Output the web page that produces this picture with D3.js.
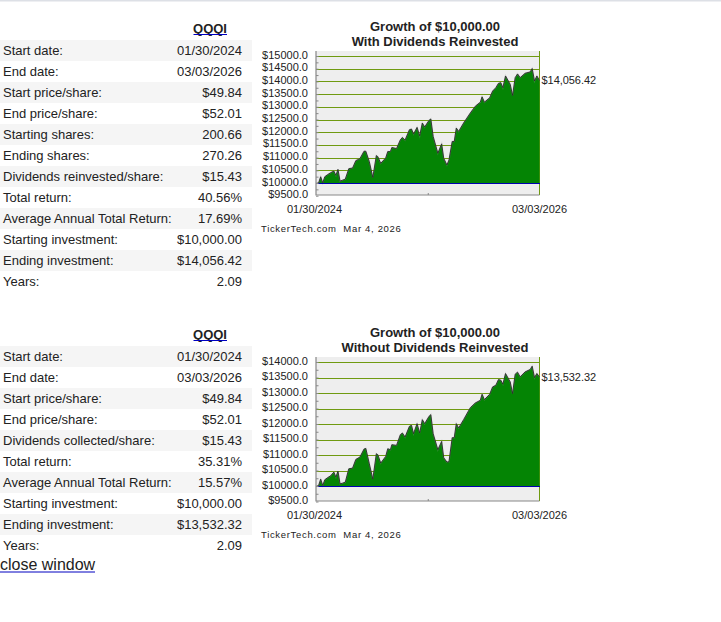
<!DOCTYPE html>
<html><head><meta charset="utf-8">
<script src="https://cdn.jsdelivr.net/npm/d3@7/dist/d3.min.js"></script>
<style>
html,body{margin:0;padding:0;background:#fff;overflow:hidden}
svg{display:block}
text{font-family:"Liberation Sans",Arial,sans-serif;fill:#222}
</style></head><body>
<svg id="page" width="721" height="622"></svg>
<script>
const ticker = "QQQI";
const labelsA = ["Start date:","End date:","Start price/share:","End price/share:","Starting shares:","Ending shares:","Dividends reinvested/share:","Total return:","Average Annual Total Return:","Starting investment:","Ending investment:","Years:"];
const valuesA = ["01/30/2024","03/03/2026","$49.84","$52.01","200.66","270.26","$15.43","40.56%","17.69%","$10,000.00","$14,056.42","2.09"];
const labelsB = ["Start date:","End date:","Start price/share:","End price/share:","Dividends collected/share:","Total return:","Average Annual Total Return:","Starting investment:","Ending investment:","Years:"];
const valuesB = ["01/30/2024","03/03/2026","$49.84","$52.01","$15.43","35.31%","15.57%","$10,000.00","$13,532.32","2.09"];
const days = [0,9,16,23,30,39,50,61,68,75,82,91,100,112,125,136,150,164,170,182,194,206,211,221,238,245,254,259,275,288,295,304,319,326,333,345,354,363,371,386,392,400,416,429,436,447,454,465,472,479,487,504,527,544,561,567,575,593,603,614,623,631,638,647,663,671,680,688,697,714,731,738,746,754,763];
const growthWith = [10000,10026,10265,10026,10265,10344,10423,10490,10318,10556,10093,10132,10172,10582,10609,10900,10979,11270,11270,10860,10238,11098,11058,10794,11005,11257,11257,11416,11376,11720,11812,11707,12117,12143,11945,12209,11879,12381,12223,12487,12540,11852,11191,11561,10992,10728,10926,11654,11654,12183,12051,12381,12778,13043,13202,13413,13202,13374,13638,13771,13943,13969,13771,14234,13903,13466,14167,14313,14167,14339,14392,14525,14035,14234,14056];
const growthWithout = [10000,10032,10237,10032,10216,10280,10345,10464,10302,10496,10086,10108,10140,10571,10593,10873,10949,11207,11229,10733,10237,11056,11024,10755,10970,11218,11186,11348,11326,11671,11725,11595,11940,11973,11703,12027,11725,12156,12027,12264,12318,11703,11186,11455,10927,10787,10798,11574,11574,12027,11887,12156,12544,12695,12781,12975,12803,12975,13212,13266,13450,13428,13299,13644,13374,12997,13622,13687,13536,13698,13773,13881,13514,13644,13532];
const ticksWith = [9500,10000,10500,11000,11500,12000,12500,13000,13500,14000,14500,15000];
const ticksWithout = [9500,10000,10500,11000,11500,12000,12500,13000,13500,14000];
const titleTop = "Growth of $10,000.00";
const subWith = "With Dividends Reinvested";
const subWithout = "Without Dividends Reinvested";
const startLabel = "01/30/2024";
const endLabel = "03/03/2026";
const credit = "TickerTech.com  Mar 4, 2026";
const closeText = "close window";

const svg = d3.select("#page");
svg.append("rect").attr("x",0).attr("y",0).attr("width",721).attr("height",1.5).attr("fill","#dde0e6");

function drawTable(labels, values, top){
  const rowH = 21;
  const g = svg.append("g");
  const y = d3.scaleBand().domain(d3.range(labels.length)).range([top, top+rowH*labels.length]);
  g.selectAll("rect").data(labels).join("rect").filter((d,i)=>i%2===0)
    .attr("x",0).attr("width",252).attr("y",(d,i)=>y(labels.indexOf(d))).attr("height",rowH).attr("fill","#f5f5f5");
  g.selectAll("text.l").data(labels).join("text").attr("class","l")
    .attr("x",3).attr("y",(d,i)=>y(i)+15).attr("font-size",13).text(d=>d);
  g.selectAll("text.v").data(values).join("text").attr("class","v")
    .attr("x",242).attr("y",(d,i)=>y(i)+15).attr("font-size",13).attr("text-anchor","end").text(d=>d);
  g.append("text").attr("x",210).attr("y",top-7).attr("text-anchor","middle")
    .attr("font-size",13).attr("font-weight","bold").text(ticker);
  g.append("line").attr("x1",193.5).attr("x2",227).attr("y1",top-5.5).attr("y2",top-5.5)
    .attr("stroke","#0000c0").attr("stroke-width",1);
}

function drawChart(series, ticks, sub, o){
  const x0=316, x1=539.5;
  const x = d3.scaleLinear().domain([0,763]).range([x0,x1]);
  const y = d3.scaleLinear().domain([ticks[0], ticks[ticks.length-1]]).range([o.y0,o.y1]);
  const g = svg.append("g");
  g.append("rect").attr("x",x0).attr("y",o.top).attr("width",x1-x0).attr("height",o.bottom-o.top).attr("fill","#eeeeee");
  g.selectAll("line.grid").data(ticks.slice(1)).join("line").attr("class","grid")
    .attr("x1",x0).attr("x2",x1).attr("y1",d=>y(d)).attr("y2",d=>y(d)).attr("stroke","#6f9a10").attr("stroke-width",1)
    .attr("shape-rendering","crispEdges");
  g.append("line").attr("x1",x1).attr("x2",x1).attr("y1",o.top).attr("y2",o.bottom).attr("stroke","#6f9a10").attr("stroke-width",1);
  const pts = days.map((d,i)=>[d,series[i]]);
  g.append("path").datum(pts).attr("fill","#048404")
    .attr("d",d3.area().x(d=>x(d[0])).y0(y(10000)).y1(d=>y(d[1])));
  const lineGen = d3.line().x(d=>x(d[0])).y(d=>y(d[1]));
  g.append("path").datum(pts).attr("fill","none").attr("stroke","#999").attr("stroke-width",1.5).attr("opacity",.3).attr("d",lineGen);
  g.append("path").datum(pts).attr("fill","none").attr("stroke","#2a2a2a").attr("stroke-width",.9).attr("d",lineGen);
  g.append("line").attr("x1",x0).attr("x2",x1).attr("y1",y(10000)).attr("y2",y(10000)).attr("stroke","#0000b0").attr("stroke-width",1)
    .attr("shape-rendering","crispEdges");
  const yAxis = d3.axisLeft(y).tickValues(ticks).tickSize(0).tickPadding(8).tickFormat(d=>"$"+d3.format(".1f")(d));
  const ya = g.append("g").attr("transform",`translate(${x0},0)`).call(yAxis);
  ya.select(".domain").remove();
  ya.selectAll("text").attr("font-size",11).attr("font-family","Liberation Sans").attr("fill","#222").attr("dy","0.14em");
  const minor = d3.range(ticks[0], ticks[ticks.length-1]+1, 250);
  g.selectAll("line.minor").data(minor).join("line").attr("class","minor")
    .attr("x1",x0).attr("x2",x0+2.5).attr("y1",d=>y(d)).attr("y2",d=>y(d)).attr("stroke","#888");
  g.append("path").attr("fill","none").attr("stroke","#888").attr("stroke-width",1.2)
    .attr("d",`M${x0},${o.top}V${o.bottom}H${x1}`);
  g.append("line").attr("x1",(x0+x1)/2+0.5).attr("x2",(x0+x1)/2+0.5).attr("y1",o.bottom).attr("y2",o.bottom-2).attr("stroke","#888");
  g.append("text").attr("x",435).attr("y",o.top-21+o.titleDy).attr("text-anchor","middle").attr("font-size",13).attr("font-weight","bold").text(titleTop);
  g.append("text").attr("x",435).attr("y",o.top-6+o.titleDy).attr("text-anchor","middle").attr("font-size",13).attr("font-weight","bold").text(sub);
  g.append("text").attr("x",314.5).attr("y",o.bottom+18).attr("text-anchor","middle").attr("font-size",11).text(startLabel);
  g.append("text").attr("x",539.5).attr("y",o.bottom+18).attr("text-anchor","middle").attr("font-size",11).text(endLabel);
  g.append("text").attr("x",541.5).attr("y",y(series[series.length-1])+4).attr("font-size",11).attr("letter-spacing",-0.05)
    .text("$"+o.endText);
  g.append("text").attr("x",261).attr("y",o.bottom+37).attr("font-size",9.5).attr("letter-spacing",0.68)
    .style("white-space","pre").text(credit);
}

drawTable(labelsA, valuesA, 40);
drawTable(labelsB, valuesB, 346);
drawChart(growthWith, ticksWith, subWith, {top:51,bottom:195,y0:196.2,y1:56.5,titleDy:0.5,endText:"14,056.42"});
drawChart(growthWithout, ticksWithout, subWithout, {top:357,bottom:501,y0:502,y1:362.5,titleDy:1,endText:"13,532.32"});

svg.append("text").attr("x",0).attr("y",570).attr("font-size",16).text(closeText);
svg.append("line").attr("x1",0).attr("x2",95).attr("y1",572).attr("y2",572).attr("stroke","#0000c0");
</script>
</body></html>
